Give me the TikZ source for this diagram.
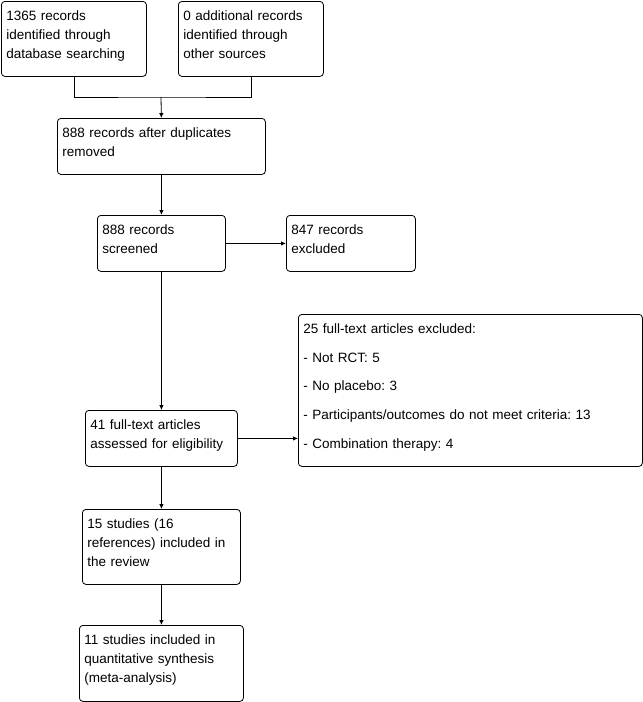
\documentclass[tikz,border=0pt]{standalone}
\usepackage{fontspec}
\setmainfont{Liberation Sans}
\frenchspacing
\usetikzlibrary{arrows.meta, positioning, calc}
\tikzset{
    box/.style={rectangle, draw, line width=0.8pt, rounded corners=3.5pt, anchor=north west, align=left,
        inner xsep=5pt, inner ysep=0pt, text height=19pt, font=\fontsize{13.5}{19}\selectfont},
    link/.style={line width=0.8pt},
    flow/.style={line width=0.8pt, ->}
}

\begin{document}
\begin{tikzpicture}[x=1pt, y=-1pt, >={Latex[length=5pt, width=4.5pt]}]
  \useasboundingbox (0,0) rectangle (643,702);
  \node[box, text width=135pt, text depth=56pt] (rec) at (1,1) {1365 records\\identified through\\database searching};
  \node[box, text width=135pt, text depth=56pt] (other) at (178,1) {0 additional records\\identified through\\other sources};
  \node[box, text width=198pt, text depth=37pt] (dedup) at (57,118) {888 records after duplicates\\removed};
  \node[box, text width=118pt, text depth=37pt] (screen) at (97,215) {888 records\\screened};
  \node[box, text width=119pt, text depth=37pt] (excl) at (286,215) {847 records\\excluded};
  \node[box, text width=334pt, text depth=133pt] (ftexcl) at (298,314) {25 full-text articles excluded:\\[9.75pt]
    - Not RCT: 5\\[9.75pt]
    - No placebo: 3\\[9.75pt]
    - Participants/outcomes do not meet criteria: 13\\[9.75pt]
    - Combination therapy: 4};
  \node[box, text width=142pt, text depth=37pt] (fulltext) at (85,410) {41 full-text articles\\assessed for eligibility};
  \node[box, text width=148pt, text depth=56pt] (studies) at (82,509) {15 studies (16\\references) included in\\the review};
  \node[box, text width=154pt, text depth=57pt] (meta) at (79,625) {11 studies included in\\quantitative synthesis\\(meta-analysis)};
  \coordinate (join) at (161,97);
  \draw[link] (rec.south) |- (join) -| (other.south);
  \draw[flow] (join) -- (dedup.north);
  \draw[flow] (dedup.south) -- (screen.north);
  \draw[flow] (screen.east) -- (excl.west);
  \draw[flow] (screen.south) -- (fulltext.north);
  \draw[flow] (fulltext.east) -- (fulltext.east -| ftexcl.west);
  \draw[flow] (fulltext.south) -- (studies.north);
  \draw[flow] (studies.south) -- (meta.north);
\end{tikzpicture}
\end{document}
